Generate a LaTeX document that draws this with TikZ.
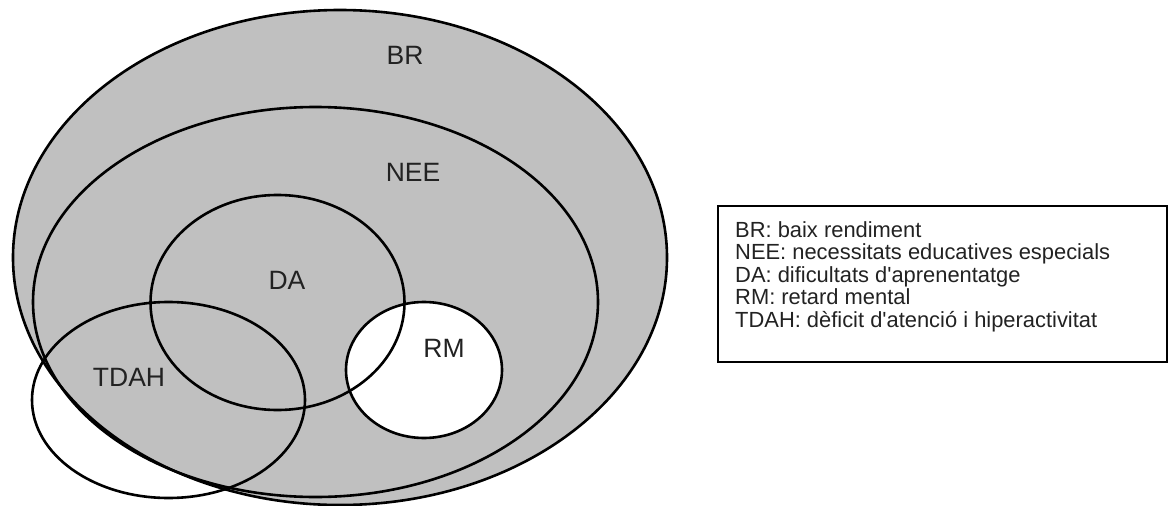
\documentclass[tikz,border=0pt]{standalone}
\usepackage{fontspec}
\setmainfont{Liberation Sans}
\definecolor{setgray}{RGB}{192,192,192}
\definecolor{labelgray}{RGB}{34,34,34}
\tikzset{
  setline/.style={draw=black, line width=2.6pt},
  setlabel/.style={text=labelgray, font=\fontsize{26.5}{28}\selectfont, inner sep=0pt},
  legline/.style={anchor=base west, text=labelgray, font=\fontsize{21.9}{22.5}\selectfont, inner sep=0pt},
  legframe/.style={draw=black, line width=1.8pt}
}
\begin{document}
\begin{tikzpicture}[x=1pt,y=-1pt]
\useasboundingbox (0,0) rectangle (1171,506);
% fills
\fill[setgray] (340,257.5) ellipse [x radius=327pt, y radius=247.5pt];
\fill[white] (424,370) ellipse [x radius=78pt, y radius=68pt];
% outlines
\draw[setline] (340,257.5) ellipse [x radius=327pt, y radius=247.5pt];
\draw[setline] (315.5,302) ellipse [x radius=282.5pt, y radius=195pt];
\draw[setline] (277.5,302.5) ellipse [x radius=127pt, y radius=107.5pt];
\draw[setline] (168.5,400) ellipse [x radius=136.5pt, y radius=98pt];
\draw[setline] (424,370) ellipse [x radius=78pt, y radius=68pt];
% labels
\node[setlabel] (lBR) at (405,55) {BR};
\node[setlabel] (lNEE) at (413,172) {NEE};
\node[setlabel] (lDA) at (287,280) {DA};
\node[setlabel] (lRM) at (444,348) {RM};
\node[setlabel] (lTDAH) at (129,377) {TDAH};
% legend
\draw[legframe] (718,206) rectangle (1167,362);
\node[legline] (leg1) at (735,237) {BR: baix rendiment};
\node[legline] (leg2) at (735,259.5) {NEE: necessitats educatives especials};
\node[legline] (leg3) at (735,282) {DA: dificultats d\textquotesingle aprenentatge};
\node[legline] (leg4) at (735,304.5) {RM: retard mental};
\node[legline] (leg5) at (735,327) {TDAH: dèficit d\textquotesingle atenció i hiperactivitat};
\end{tikzpicture}
\end{document}
